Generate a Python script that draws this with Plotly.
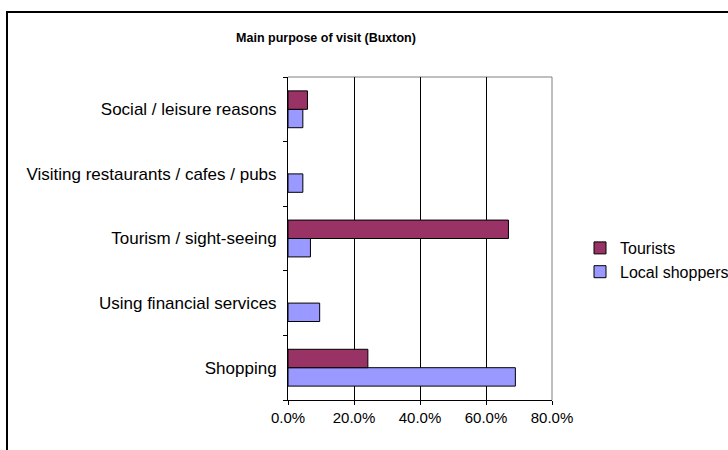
import plotly.graph_objects as go

# Survey: main purpose of visit to Buxton (share of respondents)
categories = [
    "Shopping",
    "Using financial services",
    "Tourism / sight-seeing",
    "Visiting restaurants / cafes / pubs",
    "Social / leisure reasons",
]
local_shoppers = [0.689, 0.096, 0.068, 0.045, 0.045]
tourists = [0.242, None, 0.668, None, 0.059]
x_ticks = [0.0, 0.2, 0.4, 0.6, 0.8]

W, H = 728, 450
L, R, T, B = 288, 176, 77, 50
pw, ph = W - L - R, H - T - B


def px_x(px):
    return (px - L) / pw


def px_y(py):
    return 1 - (py - T) / ph


fig = go.Figure()
fig.add_trace(go.Bar(
    y=categories, x=local_shoppers, orientation="h", name="Local shoppers",
    marker=dict(color="#9999FF", line=dict(color="#000000", width=1)),
))
fig.add_trace(go.Bar(
    y=categories, x=tourists, orientation="h", name="Tourists",
    marker=dict(color="#993366", line=dict(color="#000000", width=1)),
))

font = "Liberation Sans, Arial, sans-serif"

fig.update_layout(
    width=W, height=H,
    margin=dict(l=L, r=R, t=T, b=B),
    paper_bgcolor="white", plot_bgcolor="white",
    barmode="group", bargap=0.43, bargroupgap=0,
    font=dict(family=font, size=15, color="#000000"),
    title=dict(
        text="<b>Main purpose of visit (Buxton)</b>",
        x=326 / W, xref="container", xanchor="center",
        y=1 - 38 / H, yref="container", yanchor="middle",
        font=dict(family=font, size=12.5, color="#000000"),
    ),
    legend=dict(
        traceorder="reversed",
        xref="container", yref="container",
        x=580 / W, xanchor="left", y=1 - 231 / H, yanchor="top",
        font=dict(family=font, size=16, color="#000000"),
        itemwidth=30, tracegroupgap=0, bgcolor="rgba(0,0,0,0)",
    ),
    xaxis=dict(
        range=[0, 0.8], tickvals=x_ticks, tickformat=".1%",
        showgrid=True, gridcolor="#000000", gridwidth=1,
        showline=True, linecolor="#000000", linewidth=1,
        ticks="outside", ticklen=4, tickcolor="#000000",
        zeroline=False, fixedrange=True, automargin=False,
        tickfont=dict(family=font, size=15, color="#000000"),
    ),
    yaxis=dict(
        type="category", categoryorder="array", categoryarray=categories,
        showgrid=False, showline=True, linecolor="#000000", linewidth=1,
        ticks="outside", ticklen=4, tickcolor="#000000",
        tickson="boundaries", ticklabelstandoff=7, automargin=False,
        tickfont=dict(family=font, size=17, color="#000000"),
        fixedrange=True,
    ),
    shapes=[
        # plot area frame (top and right edges)
        dict(type="line", xref="paper", yref="paper", x0=0, x1=1, y0=1, y1=1,
             line=dict(color="#808080", width=1), layer="below"),
        dict(type="line", xref="paper", yref="paper", x0=1, x1=1, y0=0, y1=1,
             line=dict(color="#808080", width=1), layer="below"),
        # chart border
        dict(type="rect", xref="paper", yref="paper",
             x0=px_x(7), x1=px_x(740), y0=px_y(12), y1=px_y(470),
             line=dict(color="#000000", width=2)),
    ],
)

fig.write_html("out.html")
